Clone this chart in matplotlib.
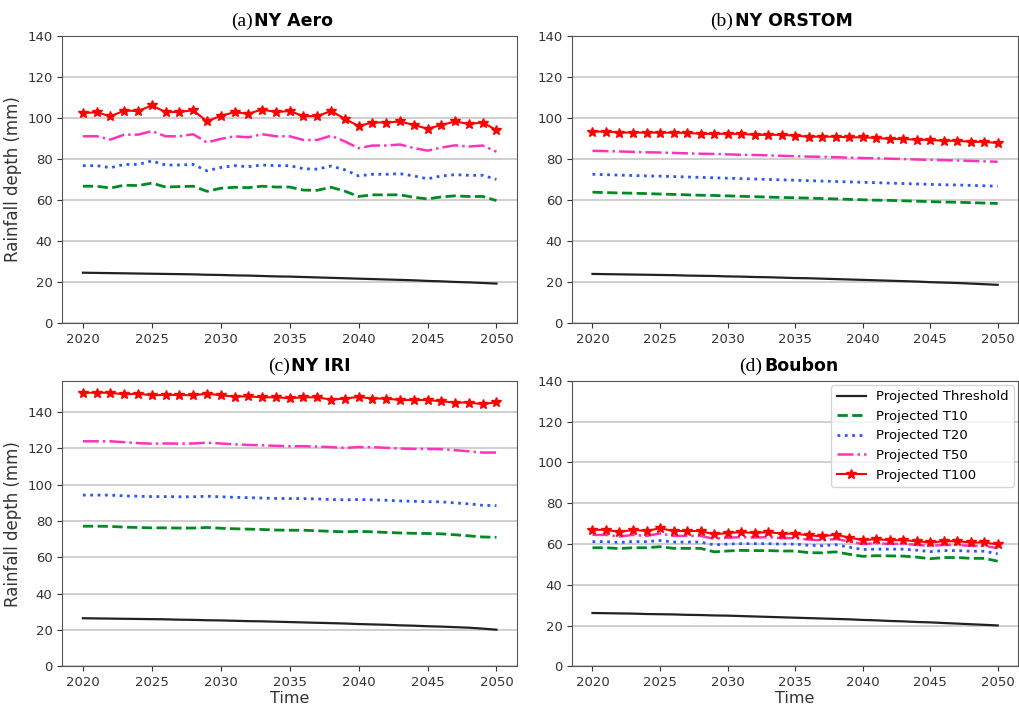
import numpy as np
import matplotlib
matplotlib.use('Agg')
import matplotlib.pyplot as plt

years = list(range(2020, 2051))

# (a) NY Aero
a_thr = [24.6, 24.5, 24.4, 24.3, 24.2, 24.1, 24.0, 23.9, 23.8, 23.6, 23.5, 23.3, 23.2, 23.0, 22.8, 22.7,
         22.5, 22.3, 22.1, 21.9, 21.7, 21.5, 21.3, 21.1, 20.9, 20.6, 20.4, 20.1, 19.9, 19.6, 19.3]
a_t10 = [66.7, 66.7, 65.8, 67.2, 67.0, 68.2, 66.3, 66.5, 66.7, 64.2, 65.7, 66.2, 66.0, 66.7, 66.3, 66.3,
         64.8, 64.7, 66.2, 64.3, 61.7, 62.5, 62.5, 62.5, 61.3, 60.5, 61.5, 62.0, 61.7, 61.7, 59.7]
a_t20 = [76.7, 76.7, 75.7, 77.3, 77.3, 79.0, 77.0, 77.0, 77.3, 74.2, 75.8, 76.7, 76.2, 77.0, 76.7, 76.7,
         75.2, 75.0, 76.5, 74.7, 71.7, 72.5, 72.5, 72.8, 71.7, 70.3, 71.7, 72.3, 72.0, 72.0, 70.0]
a_t50 = [91.0, 91.0, 89.4, 91.8, 91.8, 93.5, 91.0, 91.0, 92.0, 88.0, 89.7, 91.0, 90.5, 92.0, 91.0, 91.0,
         89.2, 89.2, 91.3, 88.5, 85.2, 86.5, 86.5, 87.0, 85.3, 84.0, 85.5, 86.6, 86.0, 86.5, 83.5]
a_t100 = [102.3, 102.7, 100.7, 103.5, 103.3, 106.0, 102.8, 102.8, 103.7, 98.2, 101.0, 102.7, 102.0, 104.0,
          102.8, 103.3, 100.8, 100.8, 103.3, 99.5, 96.0, 97.7, 97.7, 98.2, 96.5, 94.7, 96.5, 98.2, 97.0,
          97.7, 94.0]

# (b) NY ORSTOM
b_thr = [24.0, 23.9, 23.8, 23.7, 23.6, 23.5, 23.4, 23.2, 23.1, 23.0, 22.8, 22.7, 22.5, 22.4, 22.2, 22.0,
         21.9, 21.7, 21.5, 21.3, 21.1, 20.9, 20.7, 20.5, 20.3, 20.0, 19.8, 19.6, 19.3, 19.0, 18.7]
b_t10 = [63.8, 63.6, 63.4, 63.3, 63.1, 62.9, 62.7, 62.5, 62.3, 62.2, 62.0, 61.8, 61.6, 61.4, 61.2, 61.1,
         60.9, 60.7, 60.5, 60.3, 60.1, 59.9, 59.8, 59.6, 59.4, 59.2, 59.0, 58.9, 58.7, 58.5, 58.3]
b_t20 = [72.5, 72.3, 72.1, 71.9, 71.7, 71.6, 71.4, 71.2, 71.0, 70.8, 70.6, 70.4, 70.2, 70.0, 69.8, 69.6,
         69.4, 69.2, 69.0, 68.8, 68.6, 68.4, 68.2, 68.0, 67.8, 67.6, 67.4, 67.3, 67.1, 66.9, 66.7]
b_t50 = [83.9, 83.8, 83.6, 83.4, 83.2, 83.1, 82.9, 82.7, 82.5, 82.4, 82.2, 82.0, 81.9, 81.7, 81.5, 81.3,
         81.1, 81.0, 80.8, 80.6, 80.4, 80.3, 80.1, 79.9, 79.7, 79.5, 79.4, 79.2, 79.0, 78.8, 78.6]
b_t100 = [93.3, 93.3, 92.8, 92.8, 92.8, 92.8, 92.7, 92.7, 92.2, 92.2, 92.2, 92.2, 91.7, 91.7, 91.7, 91.3,
          90.8, 90.8, 90.8, 90.5, 90.5, 90.2, 89.7, 89.7, 89.3, 89.2, 88.8, 88.8, 88.3, 88.3, 87.7]

# (c) NY IRI
c_thr = [26.5, 26.4, 26.3, 26.2, 26.1, 26.0, 25.9, 25.7, 25.6, 25.4, 25.3, 25.1, 24.9, 24.8, 24.6, 24.4,
         24.2, 24.0, 23.8, 23.6, 23.3, 23.1, 22.9, 22.6, 22.4, 22.1, 21.9, 21.6, 21.3, 20.8, 20.2]
c_t10 = [77.1, 77.1, 77.0, 76.6, 76.4, 76.2, 76.2, 76.1, 76.1, 76.4, 76.0, 75.7, 75.5, 75.3, 75.0, 74.9,
         74.9, 74.6, 74.3, 74.0, 74.3, 74.0, 73.7, 73.4, 73.2, 73.1, 72.9, 72.4, 71.8, 71.2, 71.0]
c_t20 = [94.2, 94.2, 94.2, 93.8, 93.6, 93.4, 93.4, 93.3, 93.3, 93.6, 93.3, 93.0, 92.8, 92.6, 92.4, 92.3,
         92.3, 92.1, 91.8, 91.6, 91.8, 91.6, 91.4, 91.0, 90.8, 90.6, 90.5, 89.9, 89.4, 88.6, 88.4]
c_t50 = [123.8, 123.8, 123.8, 123.3, 122.8, 122.5, 122.6, 122.5, 122.6, 123.0, 122.6, 122.1, 121.8, 121.6,
         121.3, 121.1, 121.1, 120.9, 120.6, 120.2, 120.6, 120.6, 120.2, 119.8, 119.6, 119.6, 119.5, 118.9,
         118.3, 117.6, 117.6]
c_t100 = [150.5, 150.5, 150.5, 149.6, 150.0, 149.1, 149.3, 149.3, 149.1, 150.0, 149.1, 148.4, 148.5, 148.0,
          148.0, 147.5, 148.0, 148.0, 146.7, 147.3, 148.2, 147.3, 147.3, 146.5, 146.5, 146.5, 145.8, 145.1,
          145.1, 144.2, 145.3]

# (d) Boubon
d_thr = [26.2, 26.1, 26.0, 25.9, 25.7, 25.6, 25.5, 25.3, 25.2, 25.0, 24.9, 24.7, 24.5, 24.3, 24.1, 23.9,
         23.7, 23.5, 23.3, 23.1, 22.8, 22.6, 22.3, 22.1, 21.8, 21.6, 21.3, 21.0, 20.7, 20.4, 20.1]
d_t10 = [58.2, 58.2, 57.8, 58.2, 58.2, 58.7, 57.9, 57.9, 57.9, 56.2, 56.6, 56.9, 56.8, 56.8, 56.6, 56.6,
         55.8, 55.7, 56.2, 55.0, 54.0, 54.3, 54.2, 54.1, 53.6, 52.8, 53.4, 53.4, 53.0, 53.0, 51.6]
d_t20 = [61.2, 61.2, 60.8, 61.2, 61.2, 61.7, 61.0, 61.0, 61.0, 59.6, 60.0, 60.2, 60.2, 60.2, 60.0, 60.0,
         59.4, 59.2, 59.7, 58.5, 57.3, 57.5, 57.5, 57.5, 57.0, 56.3, 56.8, 56.8, 56.5, 56.5, 55.2]
d_t50 = [64.5, 64.5, 63.7, 64.5, 64.0, 65.2, 64.0, 64.0, 64.0, 62.6, 63.1, 63.4, 63.2, 63.4, 62.9, 62.9,
         62.2, 61.8, 62.5, 61.3, 60.0, 60.4, 60.1, 60.1, 59.6, 59.1, 59.6, 59.6, 59.1, 59.1, 58.0]
d_t100 = [67.0, 67.0, 65.9, 67.0, 66.4, 67.8, 66.4, 66.4, 66.4, 64.8, 65.4, 65.9, 65.4, 65.9, 65.1, 65.1,
          64.3, 63.8, 64.6, 63.2, 61.9, 62.4, 61.9, 61.9, 61.4, 60.8, 61.4, 61.4, 60.8, 60.8, 59.8]

panels = [
    ('(a)', 'NY Aero', a_thr, a_t10, a_t20, a_t50, a_t100),
    ('(b)', 'NY ORSTOM', b_thr, b_t10, b_t20, b_t50, b_t100),
    ('(c)', 'NY IRI', c_thr, c_t10, c_t20, c_t50, c_t100),
    ('(d)', 'Boubon', d_thr, d_t10, d_t20, d_t50, d_t100),
]

positions = [
    [0.061, 0.546, 0.446, 0.404],
    [0.561, 0.546, 0.437, 0.404],
    [0.061, 0.064, 0.446, 0.401],
    [0.561, 0.064, 0.437, 0.401],
]
title_x = [0.418, 0.361, 0.50, 0.426]

fig = plt.figure(figsize=(10.2, 7.12), dpi=100)

for i, (tag, name, thr, t10, t20, t50, t100) in enumerate(panels):
    ax = fig.add_axes(positions[i])
    ax.plot(years, thr, color='#222222', lw=1.6, label='Projected Threshold')
    ax.plot(years, t10, color='#008a22', lw=2, ls='--', label='Projected T10')
    ax.plot(years, t20, color='#2a55ff', lw=2, ls=':', label='Projected T20')
    ax.plot(years, t50, color='#ff33bb', lw=1.8, ls='-.', label='Projected T50')
    ax.plot(years, t100, color='red', lw=1.5, marker='*', ms=7, label='Projected T100')

    ax.set_xticks([2020, 2025, 2030, 2035, 2040, 2045, 2050])
    ax.set_yticks(range(0, 141, 20))
    if i == 2:
        ax.set_ylim(0, 157)
    else:
        ax.set_ylim(0, 140)
    ax.grid(axis='y', color='#cccccc', lw=1.3)
    ax.set_axisbelow(True)
    ax.tick_params(labelsize=9.5, colors='#333333')
    for s in ax.spines.values():
        s.set_color('#555555')

    ax.text(title_x[i], 1.02, tag, transform=ax.transAxes, ha='right', va='bottom',
            fontsize=14, family='Liberation Serif')
    ax.text(title_x[i] + 0.004, 1.02, name, transform=ax.transAxes, ha='left', va='bottom',
            fontsize=12.5, fontweight='bold')

    if i in (0, 2):
        ax.set_ylabel('Rainfall depth (mm)', fontsize=12, color='#333333')
    if i in (2, 3):
        ax.set_xlabel('Time', fontsize=11.5, color='#333333', labelpad=1)
    if i == 3:
        ax.legend(loc='upper right', fontsize=9.5, borderaxespad=0.3, handlelength=2.2)

fig.savefig('out.png', dpi=100)
